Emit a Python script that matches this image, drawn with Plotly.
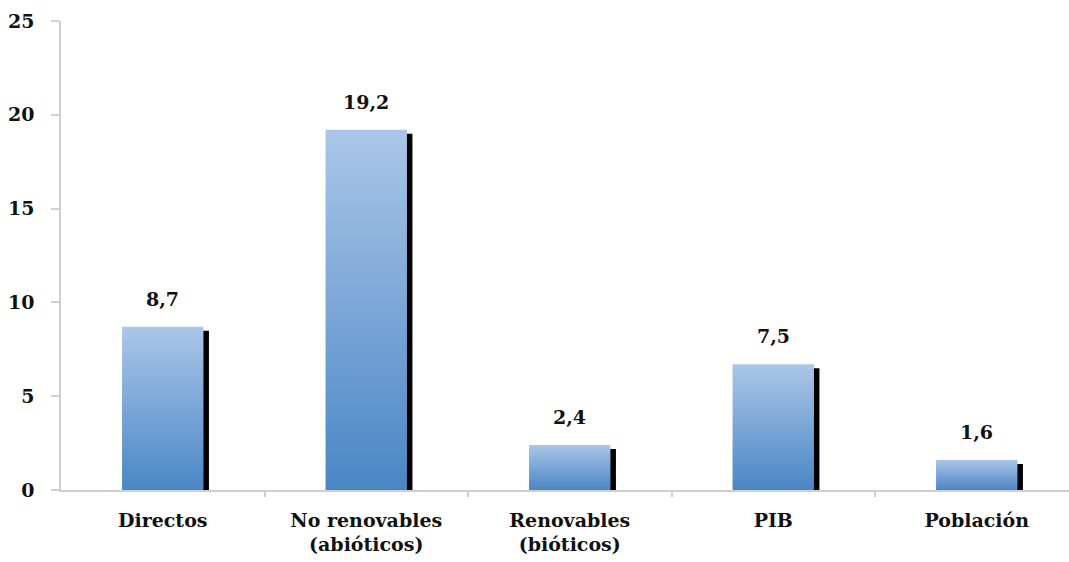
import plotly.graph_objects as go

categories = ["Directos", "No renovables<br>(abióticos)", "Renovables<br>(bióticos)", "PIB", "Población"]
bar_values = [8.7, 19.2, 2.4, 6.7, 1.6]
value_labels = ["8,7", "19,2", "2,4", "7,5", "1,6"]
y_ticks = [0, 5, 10, 15, 20, 25]

FONT = "DejaVu Serif"
BAR_W = 0.40
SH_DX = 0.027
SH_DY = 0.21

fig = go.Figure()

xs = list(range(len(categories)))

# shadow bars
fig.add_trace(go.Bar(
    x=[x + SH_DX for x in xs],
    y=[v - SH_DY for v in bar_values],
    width=BAR_W,
    marker=dict(color="#000000", line=dict(width=0)),
    hoverinfo="skip",
    showlegend=False,
))

# gradient bars
for x, v in zip(xs, bar_values):
    fig.add_trace(go.Scatter(
        x=[x - BAR_W / 2, x + BAR_W / 2, x + BAR_W / 2, x - BAR_W / 2, x - BAR_W / 2],
        y=[0, 0, v, v, 0],
        mode="lines",
        line=dict(width=0),
        fill="toself",
        fillgradient=dict(type="vertical",
                          colorscale=[[0, "#4a86c5"], [1, "#abc6e8"]]),
        hoverinfo="skip",
        showlegend=False,
    ))

# boundary ticks trace on secondary axis
fig.add_trace(go.Scatter(x=[0], y=[0], xaxis="x2", mode="markers",
                         marker=dict(opacity=0), hoverinfo="skip", showlegend=False))

TXT = dict(family=FONT, size=19, color="#111111", weight="bold")

for x, v, lab in zip(xs, bar_values, value_labels):
    fig.add_annotation(x=x, y=v, text=lab, showarrow=False, yanchor="bottom",
                       yshift=15, font=TXT)

xr = [-0.5, -0.5 + (1069 - 61) / 203.5]

fig.update_layout(
    width=1069, height=562,
    margin=dict(l=61, r=0, t=21, b=72),
    paper_bgcolor="white", plot_bgcolor="white",
    barmode="overlay",
    xaxis=dict(range=xr, tickvals=xs, ticktext=categories, ticks="",
               showline=True, linecolor="#cfcfcf", linewidth=1.5,
               showgrid=False, zeroline=False, fixedrange=True,
               tickfont=TXT, ticklabelstandoff=12),
    xaxis2=dict(range=xr, overlaying="x", anchor="y", side="bottom",
                tickvals=[0.5, 1.5, 2.5, 3.5], ticktext=["", "", "", ""],
                ticks="outside", ticklen=6, tickcolor="#cfcfcf", tickwidth=1.5,
                showline=False, showgrid=False, zeroline=False, showticklabels=False),
    yaxis=dict(range=[0, 25], tickvals=y_ticks, ticks="outside", ticklen=8,
               tickcolor="#cfcfcf", tickwidth=1.5,
               showline=True, linecolor="#cfcfcf", linewidth=1.5,
               showgrid=False, zeroline=False,
               tickfont=TXT, ticklabelstandoff=13),
)

fig.write_html("out.html")
